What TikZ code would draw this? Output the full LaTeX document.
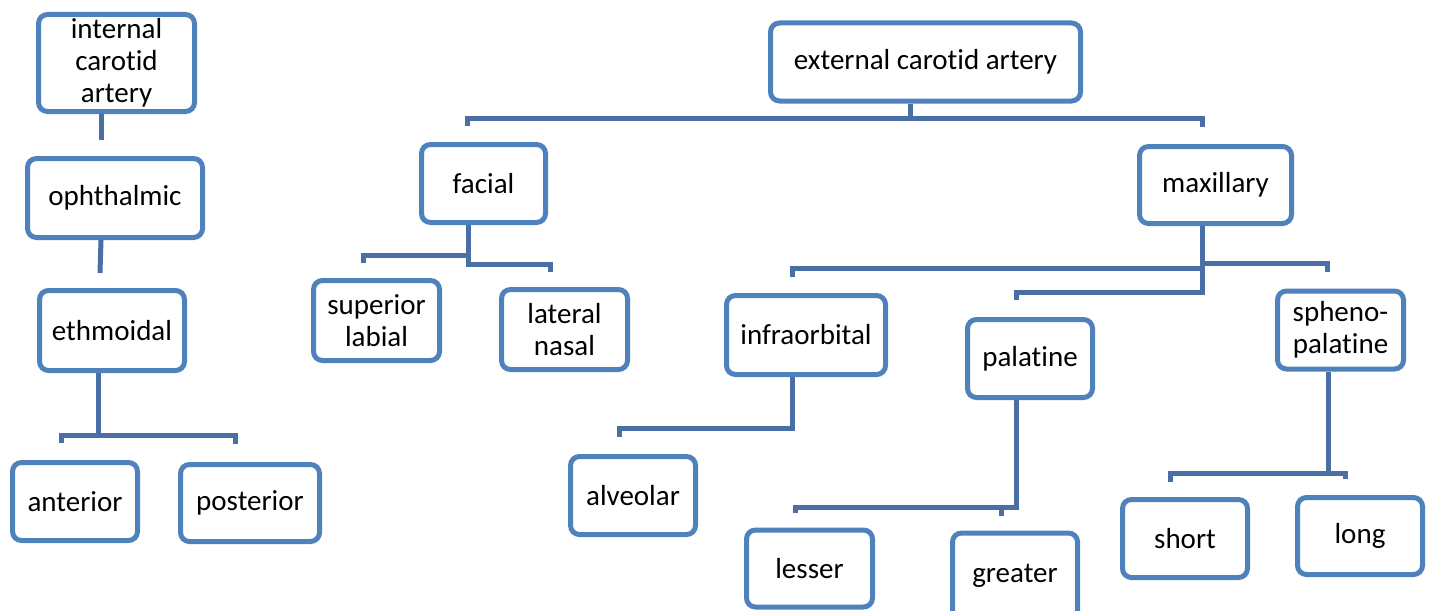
\documentclass[tikz,border=0pt]{standalone}
\usepackage{fontspec}
\setmainfont{Carlito}[Ligatures=NoCommon]
\definecolor{boxblue}{HTML}{4F81BD}
\definecolor{connblue}{HTML}{4A6FA5}
\begin{document}
\begin{tikzpicture}[x=1pt,y=-1pt,
  box/.style={draw=boxblue, line width=5pt, rounded corners=9pt, fill=white,
    inner sep=0pt, align=center, text=black,
    font=\fontsize{29}{32}\selectfont},
  conn/.style={draw=connblue, line width=5pt}]
\fill[white] (0,0) rectangle (1434,610);
\useasboundingbox (0,0) rectangle (1434,610);

% boxes
\node[box, minimum width=156pt, minimum height=97pt] (internal) at (116.5,63) {internal\\carotid\\artery};
\node[box, minimum width=175pt, minimum height=79pt] (oph) at (115,198) {ophthalmic};
\node[box, minimum width=145pt, minimum height=80pt] (eth) at (112,330.5) {ethmoidal};
\node[box, minimum width=125pt, minimum height=78pt] (ant) at (75,501.5) {anterior};
\node[box, minimum width=139pt, minimum height=77pt] (post) at (250,503) {posterior};
\node[box, minimum width=310pt, minimum height=78pt] (ext) at (925.5,62) {external carotid artery};
\node[box, minimum width=124pt, minimum height=78pt] (facial) at (483.5,183.5) {facial};
\node[box, minimum width=152pt, minimum height=77pt] (max) at (1215.5,185) {maxillary};
\node[box, minimum width=126pt, minimum height=80pt] (suplab) at (376.5,320.5) {superior\\labial};
\node[box, minimum width=126pt, minimum height=80pt] (latnas) at (564.5,329.5) {lateral\\nasal};
\node[box, minimum width=159pt, minimum height=79pt] (infra) at (806,335) {infraorbital};
\node[box, minimum width=125pt, minimum height=78pt] (pal) at (1030,358.5) {palatine};
\node[box, minimum width=126pt, minimum height=78pt] (sph) at (1340.5,330) {spheno-\\palatine};
\node[box, minimum width=125pt, minimum height=78pt] (alv) at (633,495.5) {alveolar};
\node[box, minimum width=126pt, minimum height=77pt] (less) at (809.5,568.5) {lesser};
\node[box, minimum width=125pt, minimum height=86pt] (great) at (1015,576) {\raisebox{3pt}{greater}};
\node[box, minimum width=125pt, minimum height=78pt] (short) at (1185,538.5) {short};
\node[box, minimum width=125pt, minimum height=77pt] (long) at (1360,536) {long};

% free ends and junctions
\coordinate (ic-end) at (101,140);
\coordinate (op-end) at (100,273);
\coordinate (et-j) at (98,435);
\coordinate (et-l) at (61,443);
\coordinate (et-r) at (235,444);
\coordinate (ex-j) at (910,118);
\coordinate (ex-l) at (467,126);
\coordinate (ex-r) at (1202,127);
\coordinate (fa-j) at (468,264);
\coordinate (fa-l) at (363,263);
\coordinate (fa-r) at (550,272);
\coordinate (mx-j) at (1202,292);
\coordinate (mx-l) at (792,277);
\coordinate (mx-m) at (1016,300);
\coordinate (mx-r) at (1327,272);
\coordinate (io-j) at (792,428);
\coordinate (io-l) at (619,437);
\coordinate (pa-j) at (1016,507);
\coordinate (pa-l) at (795,513);
\coordinate (pa-r) at (1001,516);
\coordinate (sp-j) at (1328,473);
\coordinate (sp-l) at (1170,482);
\coordinate (sp-r) at (1345,479);

% connectors
\draw[conn] ([xshift=-15.5pt]internal.south) -- (ic-end);
\draw[conn] ([xshift=-14pt]oph.south) -- (op-end);
\draw[conn] ([xshift=-14pt]eth.south) -- (et-j);
\draw[conn] (et-l) |- (et-j) -| (et-r);

\draw[conn] ([xshift=-15.5pt]ext.south) -- (ex-j);
\draw[conn] (ex-l) |- (ex-j) -| (ex-r);

\draw[conn] ([xshift=-15.5pt]facial.south) -- (fa-j) -| (fa-r);
\draw[conn] (fa-l) |- (468,255);

\draw[conn] ([xshift=-13.5pt]max.south) -- (mx-j) -| (mx-m);
\draw[conn] (mx-l) |- (1202,268);
\draw[conn] (1202,263) -| (mx-r);

\draw[conn] ([xshift=-14pt]infra.south) -- (io-j) -| (io-l);

\draw[conn] ([xshift=-14pt]pal.south) -- (pa-j) -| (pa-l);
\draw[conn] (pa-j) -| (pa-r);

\draw[conn] ([xshift=-12.5pt]sph.south) -- (sp-j) -| (sp-l);
\draw[conn] (sp-j) -| (sp-r);
\end{tikzpicture}
\end{document}
